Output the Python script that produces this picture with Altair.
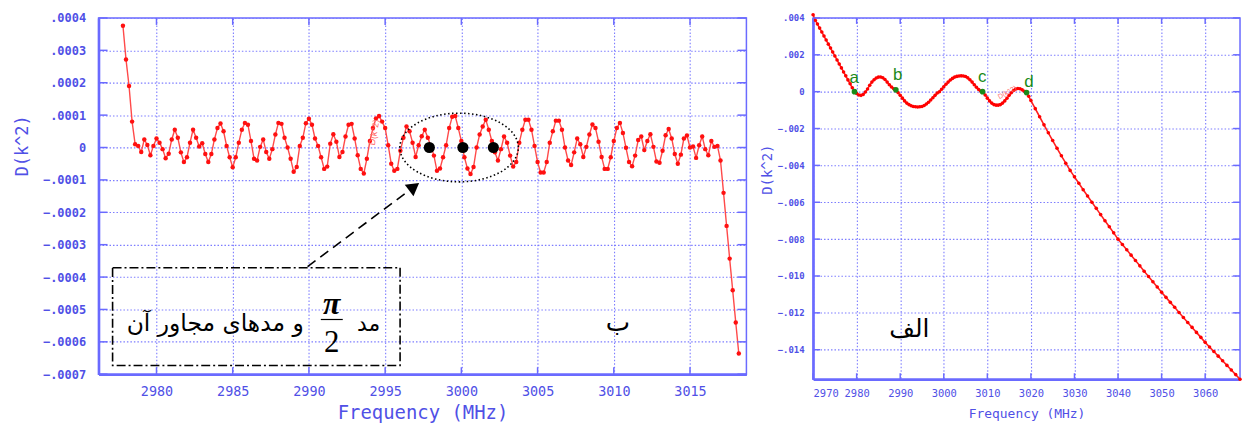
import altair as alt
import pandas as pd

# ---------------- Left panel (ب): D(k^2) vs frequency, 0.2 MHz sampling ----------------
left_f0 = 2977.8
left_step = 0.2
# values in units of 1e-5, one row per MHz (n.0, n.2, n.4, n.6, n.8)
left_d_e5 = [
    37.6,                                 # 2977.8
    27.2, 19, 8, 1, 0.5,                  # 2978
    -1.4, 2.5, 0.8, -2.4, 0.5,            # 2979
    2.8, 1.5, -0.5, -3.3, -1.9,           # 2980
    2.5, 5.5, 3, -1.5, -4.5,              # 2981
    -3, 1.5, 5.5, 3, 0.3,                 # 2982
    1.3, -2, -4.5, -2, 2.5,               # 2983
    6, 7.4, 5, 0.5, -3,                   # 2984
    -6.1, -3, 1.5, 5.5, 7.6,              # 2985
    7, 2, -3.5, -4, 0.2,                  # 2986
    2.5, -1.4, -3.5, -0.5, 4,             # 2987
    7.6, 7.3, 3, 0, -3.5,                 # 2988
    -7.5, -6, 0.5, 3, 7.5,                # 2989
    8.9, 7, 2.8, 0.5, -3,                 # 2990
    -6.6, -5.9, 1.2, 4.1, 1.8,            # 2991
    -2.9, -1.4, 3.4, 7, 7.3,              # 2992
    2.8, -2.4, -6.6, -8, -3.5,            # 2993
    2, 6, 9, 9.7, 8,                      # 2994
    6, 0.7, -5, -7.2, -6.6,               # 2995
    -1, 3, 6.5, 5, 1.5,                   # 2996
    -2.9, 0.7, 3.5, 5.5, 3,               # 2997
    0.5, -2.5, -7.2, -6.5, -3,            # 2998
    0.7, 6, 9.5, 9.7, 6,                  # 2999
    2, -3, -6.5, -8.2, -6,                # 3000
    0, 4, 6.5, 8.6, 5.5,                  # 3001
    2, -1.5, -4, -0.5, 3.4,               # 3002
    1.5, -2.5, -5.9, -4.5, 1.5,           # 3003
    5.5, 8.6, 8.6, 5.5, 0.5,              # 3004
    -4.5, -7.7, -7.7, -4.5, 1.5,          # 3005
    5, 8.3, 8.3, 5.5, 0,                  # 3006
    -4, -5.4, -1.5, 2.8, 1,               # 3007
    -2.9, 0.2, 4, 7.1, 6,                 # 3008
    1.8, -2.9, -6.6, -6.6, -3,            # 3009
    2, 6, 7.6, 4.5, -0.1,                 # 3010
    -4.5, -5.8, -2.5, 2.3, 3.4,           # 3011
    -0.8, 2, 4.1, 0.2, -4.3,              # 3012
    -4.7, -1, 3.8, 5.7, 2.8,              # 3013
    -2, -5, -2.2, 2.8, 3.7,               # 3014
    0, 0.3, -3.2, 0.7, 3.4,               # 3015
    -0.5, -2.4, 2, 0.2, 0.5,              # 3016
    -4, -14, -24.2, -34.3, -44.1,         # 3017
    -54, -63.6,                           # 3018
]
freq_left = [round(left_f0 + left_step * i, 1) for i in range(len(left_d_e5))]
d_left = [v * 1e-5 for v in left_d_e5]

# highlighted pi/2 mode and neighbours
mode_f = [2997.9, 3000.1, 3002.1]
mode_d = [0.0, 0.0, 0.0]

xt_left = [2980, 2985, 2990, 2995, 3000, 3005, 3010, 3015]
yt_left = [-0.0007, -0.0006, -0.0005, -0.0004, -0.0003, -0.0002, -0.0001, 0.0, 0.0001, 0.0002, 0.0003, 0.0004]

# annotations (data coordinates)
ellipse_f, ellipse_d = [2999.85], [0.0]
box_f, box_f2, box_d, box_d2 = [2977.12], [2995.98], [-0.000371], [-0.000673]
arrow_f = [2989.91, 2996.59]
arrow_d = [-0.000368, -0.000132]
arrowhead_f, arrowhead_d = [2996.90], [-0.000121]

# ---------------- Right panel (الف) ----------------
right_f = [2970 + 0.5 * i for i in range(101)] + [3021 + i for i in range(48)]
# values in units of 1e-3
right_d_e3 = [
    4.17, 3.88, 3.67, 3.45, 3.24, 3.02, 2.8, 2.58, 2.37, 2.15,          # 2970-2974.5
    1.94, 1.72, 1.5, 1.29, 1.07, 0.86, 0.64, 0.43, 0.21, 0.0,           # 2975-2979.5
    -0.1, -0.18, -0.2, -0.15, -0.02, 0.15, 0.35, 0.52, 0.65, 0.74,      # 2980-2984.5
    0.79, 0.8, 0.76, 0.66, 0.52, 0.38, 0.25, 0.16, 0.08, -0.05,         # 2985-2989.5
    -0.2, -0.35, -0.5, -0.62, -0.7, -0.76, -0.8, -0.82, -0.83, -0.82,   # 2990-2994.5
    -0.8, -0.75, -0.67, -0.57, -0.45, -0.33, -0.2, -0.07, 0.0, 0.13,    # 2995-2999.5
    0.27, 0.4, 0.52, 0.63, 0.72, 0.79, 0.83, 0.85, 0.86, 0.85,          # 3000-3004.5
    0.82, 0.75, 0.65, 0.52, 0.38, 0.24, 0.12, 0.03, -0.02, -0.18,       # 3005-3009.5
    -0.35, -0.5, -0.62, -0.7, -0.73, -0.73, -0.7, -0.62, -0.5, -0.36,   # 3010-3014.5
    -0.2, -0.06, 0.06, 0.14, 0.17, 0.16, 0.1, 0.02, -0.06, -0.25,       # 3015-3019.5
    -0.48,                                                              # 3020
    -0.92, -1.36, -1.8, -2.23, -2.65, -3.07, -3.48, -3.88, -4.27,       # 3021-3029
    -4.62, -4.97, -5.32, -5.66, -6.0, -6.33, -6.67, -7.0, -7.33, -7.66, # 3030-3039
    -8.0, -8.29, -8.58, -8.87, -9.16, -9.45, -9.74, -10.03, -10.31, -10.6,   # 3040-3049
    -10.88, -11.16, -11.43, -11.7, -11.98, -12.25, -12.52, -12.79, -13.06, -13.33,  # 3050-3059
    -13.6, -13.85, -14.1, -14.35, -14.6, -14.85, -15.1, -15.35, -15.6,  # 3060-3068
]
d_right = [v * 1e-3 for v in right_d_e3]

pt_labels = ["a", "b", "c", "d"]
pt_f = [2979.5, 2989.0, 3008.9, 3019.0]
pt_d = [0.0, 0.0001, 0.0, -0.00005]
lbl_f = [2979.41, 2989.43, 3008.81, 3019.54]
lbl_d = [0.000757, 0.000892, 0.0008, 0.000551]

xt_right = [2970, 2980, 2990, 3000, 3010, 3020, 3030, 3040, 3050, 3060]
yt_right = [-0.014, -0.012, -0.010, -0.008, -0.006, -0.004, -0.002, 0.0, 0.002, 0.004]

# ---------------- styling ----------------
BLUE = "#5050e6"
GRID = "#7c7cff"
FRAME = "#6a6aff"
MONO = "DejaVu Sans Mono"
WL, HL = 651, 358
WR, HR = 429, 363

xsL = alt.Scale(domain=[2976.2, 3018.7], nice=False, zero=False)
ysL = alt.Scale(domain=[-0.0007, 0.0004], nice=False, zero=False)
xsR = alt.Scale(domain=[2970, 3068], nice=False, zero=False)
ysR = alt.Scale(domain=[-0.0156, 0.004], nice=False, zero=False)


def make_axis(values, title, label_expr, lsize, lpad, tsize, weight="normal", **kw):
    return alt.Axis(
        values=values, title=title, labelExpr=label_expr, grid=True, gridColor=GRID,
        gridDash=[1.5, 2], gridWidth=1.1, ticks=False, labelColor=BLUE, labelFont=MONO,
        labelFontSize=lsize, labelFontWeight=weight, labelPadding=lpad, titleColor=BLUE,
        titleFont=MONO, titleFontSize=tsize, titleFontWeight="normal",
        domainColor=FRAME, domainWidth=2.5, **kw)


ylab4 = "abs(datum.value) < 1e-12 ? '0' : replace(format(datum.value, '.4f'), '0.', '.')"
ylab3 = "abs(datum.value) < 1e-12 ? '0' : replace(format(datum.value, '.3f'), '0.', '.')"
xlab = "format(datum.value, 'd')"

axL_x = make_axis(xt_left, "Frequency (MHz)", xlab, 13.5, 10, 19, titleY=29, titleBaseline="top")
axL_y = make_axis(yt_left, "D(k^2)", ylab4, 12, 13, 17, weight="bold",
                  titleX=-67, titleY=128, titleAngle=270, titleBaseline="bottom")
axR_x = make_axis(xt_right, "Frequency (MHz)", xlab, 10.5, 9, 13, titleY=28, titleBaseline="top")
axR_y = make_axis(yt_right, "D(k^2)", ylab3, 9, 9, 14, weight="bold",
                  titleX=-39, titleY=152, titleAngle=270, titleBaseline="bottom")


def XL(field="f"):
    return alt.X(f"{field}:Q", scale=xsL, axis=axL_x)


def YL(field="d"):
    return alt.Y(f"{field}:Q", scale=ysL, axis=axL_y)


def XR(field="f"):
    return alt.X(f"{field}:Q", scale=xsR, axis=axR_x)


def YR(field="d"):
    return alt.Y(f"{field}:Q", scale=ysR, axis=axR_y)


# ---------------- left chart ----------------
df_left = pd.DataFrame({"f": freq_left, "d": d_left})
baseL = alt.Chart(df_left)
lineL = baseL.mark_line(color="#ff4a4a", strokeWidth=1.4).encode(x=XL(), y=YL())
ptsL = baseL.mark_circle(color="#ff1010", size=20, opacity=1).encode(x=XL(), y=YL())

ticks_yL = pd.DataFrame({"t": yt_left})
ticks_xL = pd.DataFrame({"t": xt_left})
tL1 = alt.Chart(ticks_yL).mark_rule(color=FRAME, strokeWidth=1.5).encode(
    y=YL("t"), x=alt.value(0), x2=alt.value(9))
tL2 = alt.Chart(ticks_yL).mark_rule(color=FRAME, strokeWidth=1.5).encode(
    y=YL("t"), x=alt.value(WL - 9), x2=alt.value(WL))
tL3 = alt.Chart(ticks_xL).mark_rule(color=FRAME, strokeWidth=1.5).encode(
    x=XL("t"), y=alt.value(HL - 7), y2=alt.value(HL))
tL4 = alt.Chart(ticks_xL).mark_rule(color=FRAME, strokeWidth=1.5).encode(
    x=XL("t"), y=alt.value(0), y2=alt.value(7))

ELLIPSE = ("M -1 0 C -1 -0.3203 -0.5523 -0.58 0 -0.58 C 0.5523 -0.58 1 -0.3203 1 0 "
           "C 1 0.3203 0.5523 0.58 0 0.58 C -0.5523 0.58 -1 0.3203 -1 0 Z")
ell = alt.Chart(pd.DataFrame({"f": ellipse_f, "d": ellipse_d})).mark_point(
    shape=ELLIPSE, size=14161, filled=False, stroke="black", strokeWidth=1.6,
    strokeDash=[1.5, 2.5], opacity=1).encode(x=XL(), y=YL())
modes = alt.Chart(pd.DataFrame({"f": mode_f, "d": mode_d})).mark_circle(
    color="black", size=125, opacity=1).encode(x=XL(), y=YL())
box = alt.Chart(pd.DataFrame({"f": box_f, "f2": box_f2, "d": box_d, "d2": box_d2})).mark_rect(
    fillOpacity=0, stroke="black", strokeWidth=1.6, strokeDash=[9, 3, 2, 3]).encode(
    x=XL(), x2="f2:Q", y=YL(), y2="d2:Q")
arrow = alt.Chart(pd.DataFrame({"f": arrow_f, "d": arrow_d})).mark_line(
    color="black", strokeWidth=1.6, strokeDash=[10, 6]).encode(x=XL(), y=YL())
head = alt.Chart(pd.DataFrame({"f": arrowhead_f, "d": arrowhead_d})).mark_point(
    shape="triangle-up", size=210, angle=53, filled=True, color="black", opacity=1).encode(
    x=XL(), y=YL())

texts_left = pd.DataFrame({
    "f": [2993.92, 2983.85, 3010.27],
    "d": [-0.000546, -0.000546, -0.000543],
    "txt": ["مد", "و مدهای مجاور آن", "ب"],
    "size": [22, 23.5, 26],
})
txtL = alt.Chart(texts_left).mark_text(color="black", font="DejaVu Sans", align="center",
                                       baseline="middle").encode(
    x=XL(), y=YL(), text="txt:N", size=alt.Size("size:Q", scale=None, legend=None))
frac_num = alt.Chart(pd.DataFrame({"f": [2991.5], "d": [-0.000482], "txt": ["π"]})).mark_text(
    color="black", font="Liberation Serif", fontStyle="italic", fontWeight="bold", fontSize=32,
    align="center", baseline="middle").encode(x=XL(), y=YL(), text="txt:N")
frac_den = alt.Chart(pd.DataFrame({"f": [2991.5], "d": [-0.000605], "txt": ["2"]})).mark_text(
    color="black", font="Liberation Serif", fontSize=31, align="center",
    baseline="middle").encode(x=XL(), y=YL(), text="txt:N")
frac_bar = alt.Chart(pd.DataFrame({"f": [2990.78], "f2": [2992.22], "d": [-0.000531]})).mark_rule(
    color="black", strokeWidth=1.2).encode(x=XL(), x2="f2:Q", y=YL())
redlblL = alt.Chart(pd.DataFrame({"f": [2994.28], "d": [0.0000467], "txt": ["D(k^2)"]})).mark_text(
    color="#ff6a6a", fontSize=9, angle=280, align="center", baseline="middle").encode(
    x=XL(), y=YL(), text="txt:N")

left = alt.layer(lineL, ptsL, tL1, tL2, tL3, tL4, ell, modes, box, arrow, head, txtL,
                 frac_num, frac_den, frac_bar, redlblL).properties(width=WL, height=HL)

# ---------------- right chart ----------------
df_right = pd.DataFrame({"f": right_f, "d": d_right})
baseR = alt.Chart(df_right)
lineR = baseR.mark_line(color="#ff2020", strokeWidth=1.6).encode(x=XR(), y=YR())
ptsR = baseR.mark_circle(color="#ff0000", size=13, opacity=1).encode(x=XR(), y=YR())

ticks_yR = pd.DataFrame({"t": yt_right})
ticks_xR = pd.DataFrame({"t": xt_right})
tR1 = alt.Chart(ticks_yR).mark_rule(color=FRAME, strokeWidth=1.5).encode(
    y=YR("t"), x=alt.value(0), x2=alt.value(7))
tR2 = alt.Chart(ticks_yR).mark_rule(color=FRAME, strokeWidth=1.5).encode(
    y=YR("t"), x=alt.value(WR - 7), x2=alt.value(WR))
tR3 = alt.Chart(ticks_xR).mark_rule(color=FRAME, strokeWidth=1.5).encode(
    x=XR("t"), y=alt.value(HR - 6), y2=alt.value(HR))
tR4 = alt.Chart(ticks_xR).mark_rule(color=FRAME, strokeWidth=1.5).encode(
    x=XR("t"), y=alt.value(0), y2=alt.value(6))

greenpts = alt.Chart(pd.DataFrame({"f": pt_f, "d": pt_d})).mark_circle(
    color="#1a8a1a", size=32, opacity=1).encode(x=XR(), y=YR())
greenlbl = alt.Chart(pd.DataFrame({"f": lbl_f, "d": lbl_d, "txt": pt_labels})).mark_text(
    color="#1a8a1a", font="Liberation Sans", fontSize=17, align="center",
    baseline="middle").encode(x=XR(), y=YR(), text="txt:N")
redlblR = alt.Chart(pd.DataFrame({"f": [3014.58], "d": [-0.00005], "txt": ["D(k^2)"]})).mark_text(
    color="#ff7070", fontSize=7, angle=331, align="center", baseline="middle").encode(
    x=XR(), y=YR(), text="txt:N")
alef = alt.Chart(pd.DataFrame({"f": [2992.1], "d": [-0.01286], "txt": ["الف"]})).mark_text(
    color="black", font="DejaVu Sans", fontSize=25, align="center", baseline="middle").encode(
    x=XR(), y=YR(), text="txt:N")

right = alt.layer(lineR, ptsR, tR1, tR2, tR3, tR4, greenpts, greenlbl, redlblR, alef).properties(
    width=WR, height=HR)

chart = alt.hconcat(left, right, spacing=67, bounds="flush").properties(
    padding={"left": 5, "top": 1, "right": 0, "bottom": 0}, background="white"
).configure_view(stroke=FRAME, strokeWidth=1.5)

chart.save("out.html", embed_options={"renderer": "svg", "actions": False})
